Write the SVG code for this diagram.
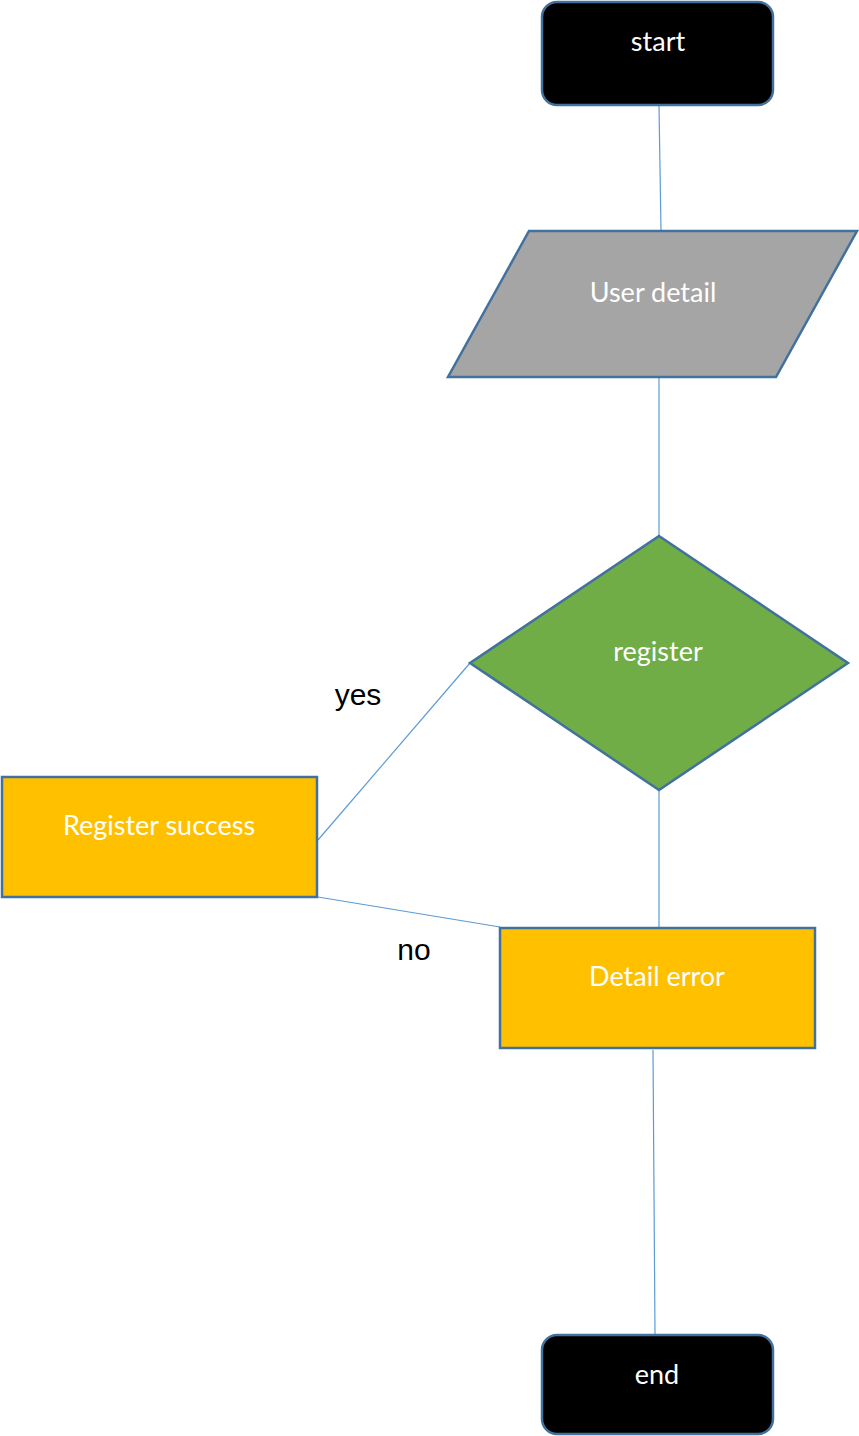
<svg xmlns="http://www.w3.org/2000/svg" width="859" height="1436" viewBox="0 0 859 1436">
<style>
.node{stroke:#41719C;stroke-width:2.5}
.term{fill:#000000}
.io{fill:#A5A5A5}
.dec{fill:#70AD47}
.proc{fill:#FFC000}
.lbl{font-family:Lato,"Open Sans",sans-serif;font-size:27px;fill:#FFFFFF;text-anchor:middle}
.edge{stroke:#5B9BD5;stroke-width:1.2;fill:none}
.elbl{font-family:"Liberation Sans",Arial,sans-serif;font-size:30px;fill:#000000;text-anchor:middle}
</style>
<rect width="859" height="1436" fill="#FFFFFF"/>
<g id="connectors">
<line class="edge" x1="659" y1="106" x2="661" y2="230"/>
<line class="edge" x1="659" y1="378" x2="659" y2="536"/>
<line class="edge" x1="470" y1="663" x2="318" y2="840"/>
<line class="edge" x1="318" y1="897" x2="500" y2="927"/>
<line class="edge" x1="659" y1="790" x2="659" y2="932"/>
<line class="edge" x1="653" y1="1050" x2="655" y2="1335"/>
<text class="elbl" x="358" y="705">yes</text>
<text class="elbl" x="414" y="960">no</text>
</g>
<g id="start">
<rect class="node term" x="542" y="2" width="231" height="103" rx="15"/>
<text class="lbl" x="658" y="51">start</text>
</g>
<g id="user-detail">
<polygon class="node io" points="529,231 857,231 776,377 448,377"/>
<text class="lbl" x="653" y="302">User detail</text>
</g>
<g id="register">
<polygon class="node dec" points="659,536 848,663 659,790 470,663"/>
<text class="lbl" x="658" y="661">register</text>
</g>
<g id="register-success">
<rect class="node proc" x="2" y="777" width="315" height="120"/>
<text class="lbl" x="159" y="835">Register success</text>
</g>
<g id="detail-error">
<rect class="node proc" x="500" y="928" width="315" height="120"/>
<text class="lbl" x="657" y="986">Detail error</text>
</g>
<g id="end">
<rect class="node term" x="542" y="1335" width="231" height="99" rx="15"/>
<text class="lbl" x="657" y="1384">end</text>
</g>
</svg>
